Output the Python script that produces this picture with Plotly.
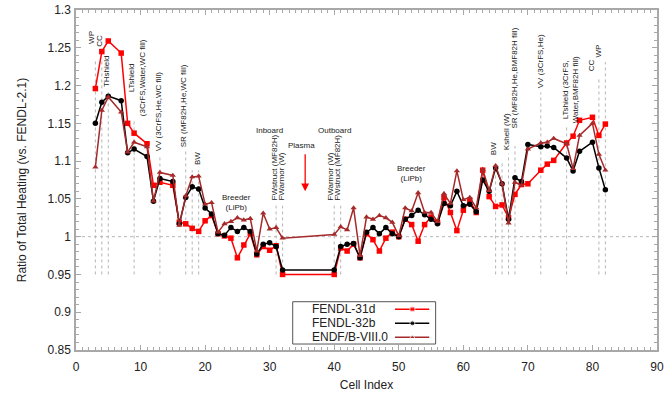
import plotly.graph_objects as go

cell = [3, 4, 5, 7, 8, 9, 11, 12, 13, 15, 16, 17, 18, 19, 20, 21, 22, 23, 24, 25, 26, 27, 28, 29, 30, 31, 32,
        40, 41, 42, 43, 44, 45, 46, 47, 48, 49, 50, 51, 52, 53, 54, 55, 56, 57, 58, 59, 60, 61, 62, 63, 64,
        65, 66, 67, 68, 69, 70, 72, 73, 74, 76, 77, 78, 80, 81, 82]

fendl31d = [1.196, 1.245, 1.259, 1.243, 1.150, 1.137, 1.123, 1.068, 1.072, 1.068, 1.019, 1.017, 1.011, 1.007,
            1.021, 1.028, 1.004, 1.001, 0.998, 0.972, 0.989, 1.004, 0.976, 0.987, 0.982, 0.988, 0.950,
            0.950, 0.985, 0.981, 0.990, 0.972, 1.004, 0.996, 0.981, 0.998, 1.006, 1.000, 1.023, 1.016,
            0.994, 1.016, 1.026, 1.019, 1.052, 1.032, 1.008, 1.035, 1.048, 1.032, 1.088, 1.053,
            1.040, 1.042, 1.025, 1.056, 1.069, 1.070, 1.088, 1.096, 1.101, 1.124, 1.133, 1.154, 1.158, 1.134, 1.149]

fendl32b = [1.150, 1.178, 1.186, 1.180, 1.111, 1.116, 1.106, 1.047, 1.077, 1.073, 1.017, 1.052, 1.066, 1.063,
            1.038, 1.030, 1.004, 1.002, 1.012, 1.007, 1.012, 1.007, 0.977, 0.990, 0.992, 0.987, 0.956,
            0.956, 0.987, 0.990, 0.991, 0.972, 1.006, 1.012, 1.004, 1.012, 1.004, 1.000, 1.023, 1.028,
            1.035, 1.029, 1.023, 1.017, 1.044, 1.041, 1.060, 1.041, 1.043, 1.033, 1.075, 1.060,
            1.091, 1.070, 1.023, 1.078, 1.073, 1.122, 1.119, 1.120, 1.118, 1.104, 1.087, 1.113, 1.125, 1.091, 1.062]

endf80 = [1.092, 1.167, 1.185, 1.165, 1.112, 1.125, 1.119, 1.047, 1.085, 1.081, 1.015, 1.054, 1.079, 1.080,
          1.043, 1.045, 1.006, 1.017, 1.020, 1.025, 1.022, 1.024, 0.981, 1.031, 1.010, 1.012, 0.998,
          1.003, 1.013, 1.009, 1.038, 0.975, 1.026, 1.023, 1.028, 1.025, 1.019, 1.001, 1.038, 1.034,
          1.058, 1.032, 1.032, 1.020, 1.057, 1.044, 1.087, 1.049, 1.052, 1.038, 1.089, 1.061,
          1.094, 1.070, 1.018, 1.072, 1.068, 1.116, 1.124, 1.125, 1.130, 1.123, 1.090, 1.134, 1.150, 1.109, 1.088]

series_names = ["FENDL-31d", "FENDL-32b", "ENDF/B-VIII.0"]

x_ticks = [0, 10, 20, 30, 40, 50, 60, 70, 80, 90]
y_ticks = [0.85, 0.9, 0.95, 1.0, 1.05, 1.1, 1.15, 1.2, 1.25, 1.3]
y_tick_labels = ["0.85", "0.9", "0.95", "1", "1.05", "1.1", "1.15", "1.2", "1.25", "1.3"]

# vertical marker lines: (cell, top value)
marker_lines = [(3, 1.233), (4, 1.232), (5, 1.191), (9, 1.154), (13, 1.108), (17, 1.113), (18, 1.088),
                (19, 1.088), (31, 1.041), (32, 1.041), (40, 1.041), (41, 1.041), (65, 1.101), (66, 1.101),
                (67, 1.110), (68, 1.120), (72, 1.191), (76, 1.145), (81, 1.211), (82, 1.231)]
line_bottom = 0.95

# rotated labels: (text, x center, bottom value)
rot_labels = [("WP", 2.5, 1.252), ("CC", 3.6, 1.249), ("THshield", 4.77, 1.195),
              ("LTshield<br>(3CrFS,Water,WC fill)", 9.4, 1.157), ("VV (3CrFS,He,WC fill)", 12.7, 1.111),
              ("SR (MF82H,He,WC fill)", 16.7, 1.116), ("BW", 18.8, 1.092),
              ("FWstruct (MF82H)", 30.8, 1.045), ("FWarmor (W)", 31.9, 1.045),
              ("FWarmor (W)", 39.5, 1.045), ("FWstruct (MF82H)", 40.6, 1.045),
              ("BW", 64.8, 1.105), ("Kshell (W)", 66.7, 1.112), ("SR (MF82H,He,BMF82H fill)", 68.0, 1.141),
              ("VV (3CrFS,He)", 71.9, 1.194), ("LTshield (3CrFS,<br>Water,BMF82H fill)", 76.5, 1.148),
              ("CC", 79.9, 1.216), ("WP", 81.0, 1.235)]
flat_labels = [("Breeder<br>(LiPb)", 24.8, 1.045), ("Inboard", 30.0, 1.141), ("Plasma", 35.0, 1.121),
               ("Outboard", 40.1, 1.141), ("Breeder<br>(LiPb)", 51.9, 1.084)]

font = "Liberation Sans, Arial, sans-serif"
colors = ["#ff0000", "#000000", "#a52a2a"]
symbols = ["square", "circle", "triangle-up"]
series = [fendl31d, fendl32b, endf80]

fig = go.Figure()
for name, vals, col, sym in zip(series_names, series, colors, symbols):
    fig.add_trace(go.Scatter(x=cell, y=vals, mode="lines+markers", name=name,
                             line=dict(color=col, width=1.5),
                             marker=dict(symbol=sym, size=5.5, color=col), showlegend=False))

# key (gnuplot style: text left, sample right), drawn on an overlay paper-like axis
key_rows = [0.1197, 0.0785, 0.0374]
key_sample_x = [0.549, 0.579, 0.608]
for name, col, sym, ry in zip(series_names, colors, symbols, key_rows):
    fig.add_trace(go.Scatter(x=key_sample_x, y=[ry] * 3, xaxis="x2", yaxis="y2", mode="lines+markers",
                             line=dict(color=col, width=1.5),
                             marker=dict(symbol=sym, size=[0, 5, 0], color=col),
                             showlegend=False, hoverinfo="skip"))

shapes = [dict(type="line", xref="paper", yref="y", x0=0, x1=1, y0=1.0, y1=1.0,
               line=dict(color="#b8b8b8", width=1, dash="dot"), layer="below"),
          dict(type="rect", xref="paper", yref="paper", x0=0.373, x1=0.619, y0=0.0176, y1=0.142,
               line=dict(color="#555555", width=1), fillcolor="white", layer="below")]
for cx, top in marker_lines:
    shapes.append(dict(type="line", xref="x", yref="y", x0=cx, x1=cx, y0=line_bottom, y1=top,
                       line=dict(color="#b4b4b4", width=1, dash="dot"), layer="below"))

annotations = []
for txt, ax, ay in rot_labels:
    annotations.append(dict(x=ax, y=ay, xref="x", yref="y", text=txt, textangle=-90, showarrow=False,
                            xanchor="center", yanchor="bottom", font=dict(family=font, size=8, color="#222")))
for txt, ax, ay in flat_labels:
    annotations.append(dict(x=ax, y=ay, xref="x", yref="y", text=txt, showarrow=False,
                            xanchor="center", yanchor="middle", font=dict(family=font, size=8, color="#222")))
for name, ry in zip(series_names, key_rows):
    annotations.append(dict(x=0.402, y=ry, xref="paper", yref="paper", text=name, showarrow=False,
                            xanchor="left", yanchor="middle", font=dict(family=font, size=12, color="#222")))
# red plasma arrow
annotations.append(dict(x=35.5, y=1.06, ax=35.5, ay=1.111, xref="x", yref="y", axref="x", ayref="y",
                        text="", showarrow=True, arrowhead=2, arrowsize=1.2, arrowwidth=1.3, arrowcolor="#ff0000"))

axis_common = dict(showline=True, linecolor="#a8a8a8", linewidth=1.5, mirror="ticks", ticks="inside",
                   tickcolor="#a8a8a8", ticklen=5, showgrid=False, zeroline=False, automargin=False,
                   tickfont=dict(family=font, size=12, color="#222"))

fig.update_layout(
    width=671, height=395,
    margin=dict(l=76, r=14, t=10, b=45),
    paper_bgcolor="white", plot_bgcolor="white",
    font=dict(family=font, size=12, color="#222"),
    xaxis=dict(range=[0, 90], tickvals=x_ticks, ticklabelstandoff=5,
               title=dict(text="Cell Index", font=dict(size=12), standoff=7),
               minor=dict(dtick=1, ticks="inside", ticklen=3, tickcolor="#a8a8a8"), **axis_common),
    yaxis=dict(range=[0.85, 1.3], tickvals=y_ticks, ticktext=y_tick_labels, ticklabelstandoff=1,
               title=dict(text="Ratio of Total Heating (vs. FENDL-2.1)", font=dict(size=12), standoff=18),
               minor=dict(dtick=0.01, ticks="inside", ticklen=3, tickcolor="#a8a8a8"), **axis_common),
    xaxis2=dict(overlaying="x", range=[0, 1], visible=False, fixedrange=True),
    yaxis2=dict(overlaying="y", range=[0, 1], visible=False, fixedrange=True),
    shapes=shapes, annotations=annotations, showlegend=False,
)

fig.write_html("out.html", config={"displayModeBar": False},
               post_script="document.body.style.margin='0px';")
